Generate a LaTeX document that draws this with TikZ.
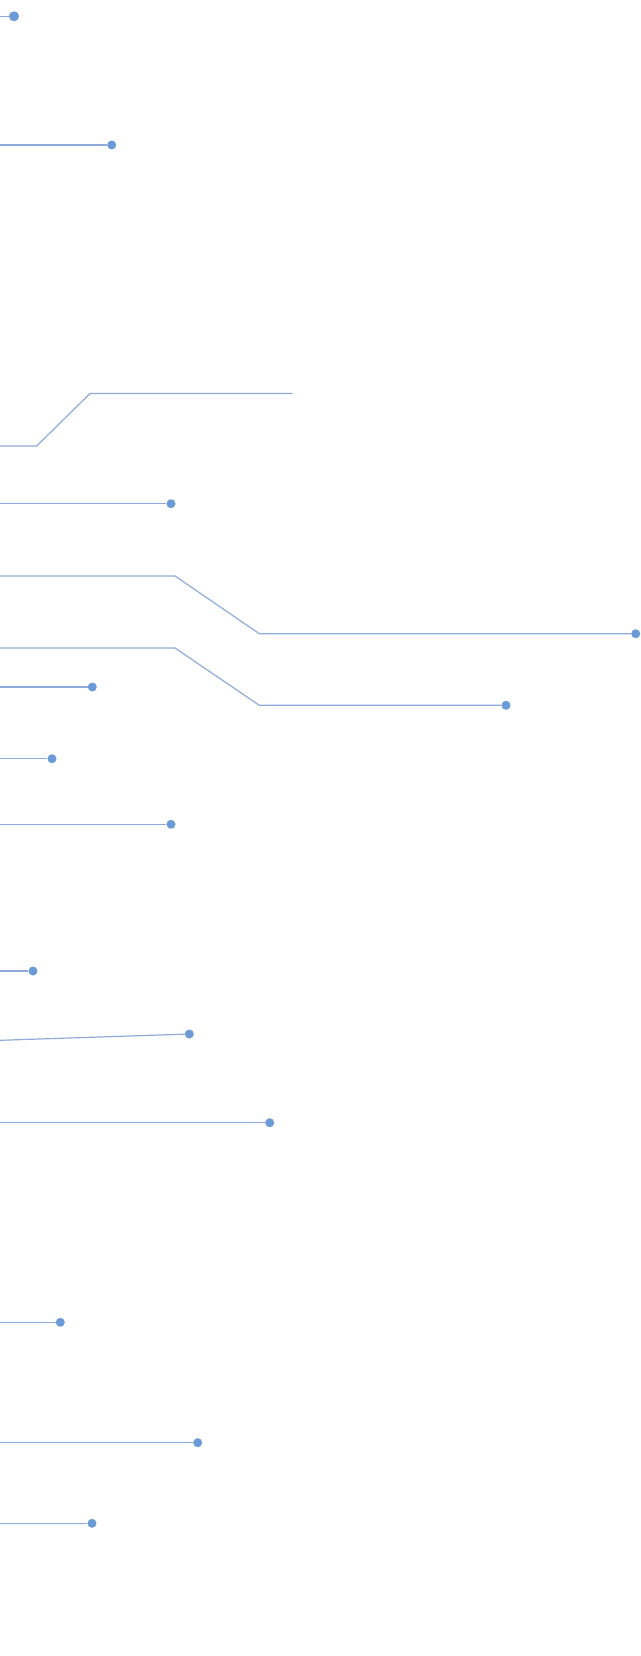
\documentclass[tikz,border=0pt]{standalone}
\definecolor{lineblue}{HTML}{8FAADC}
\definecolor{dotblue}{HTML}{6A9BD6}
\begin{document}
\begin{tikzpicture}[x=1pt,y=-1pt,
  lead/.style={draw=lineblue,line width=1.2pt},
  enddot/.style={circle,fill=dotblue,inner sep=0pt,minimum size=9pt}]
\useasboundingbox (0,0) rectangle (640,1656);
% leader lines with end dots
\coordinate (s1) at (0,16.3);   \node[enddot,minimum size=10pt] (d1) at (14,16.3) {};
\coordinate (s2) at (0,145);    \node[enddot] (d2) at (111.7,145) {};
\coordinate (s3) at (0,446);    \coordinate (b3) at (36.7,446); \coordinate (c3) at (90,393.5); \coordinate (e3) at (292.7,393.5);
\coordinate (s4) at (0,503.7);  \node[enddot] (d4) at (171,503.7) {};
\coordinate (s5) at (0,576);    \coordinate (b5) at (175,576); \coordinate (c5) at (259.3,633.7); \node[enddot] (d5) at (635.7,633.7) {};
\coordinate (s6) at (0,648);    \coordinate (b6) at (175,648); \coordinate (c6) at (259.3,705.3); \node[enddot] (d6) at (506,705.3) {};
\coordinate (s7) at (0,687);    \node[enddot] (d7) at (92.3,687) {};
\coordinate (s8) at (0,758.7);  \node[enddot] (d8) at (52,758.7) {};
\coordinate (s9) at (0,824.3);  \node[enddot] (d9) at (171,824.3) {};
\coordinate (s10) at (0,971);   \node[enddot] (d10) at (33,971) {};
\coordinate (s11) at (0,1040.3);\node[enddot] (d11) at (189.3,1034) {};
\coordinate (s12) at (0,1122.7);\node[enddot] (d12) at (269.7,1122.7) {};
\coordinate (s13) at (0,1322.3);\node[enddot] (d13) at (60.3,1322.3) {};
\coordinate (s14) at (0,1442.7);\node[enddot] (d14) at (197.7,1442.7) {};
\coordinate (s15) at (0,1523.3);\node[enddot] (d15) at (92,1523.3) {};

\draw[lead] (s1) -- (d1);
\draw[lead] (s2) -- (d2);
\draw[lead] (s3) -- (b3) -- (c3) -- (e3);
\draw[lead] (s4) -- (d4);
\draw[lead] (s5) -- (b5) -- (c5) -- (d5);
\draw[lead] (s6) -- (b6) -- (c6) -- (d6);
\draw[lead] (s7) -- (d7);
\draw[lead] (s8) -- (d8);
\draw[lead] (s9) -- (d9);
\draw[lead] (s10) -- (d10);
\draw[lead] (s11) -- (d11);
\draw[lead] (s12) -- (d12);
\draw[lead] (s13) -- (d13);
\draw[lead] (s14) -- (d14);
\draw[lead] (s15) -- (d15);
\end{tikzpicture}
\end{document}
